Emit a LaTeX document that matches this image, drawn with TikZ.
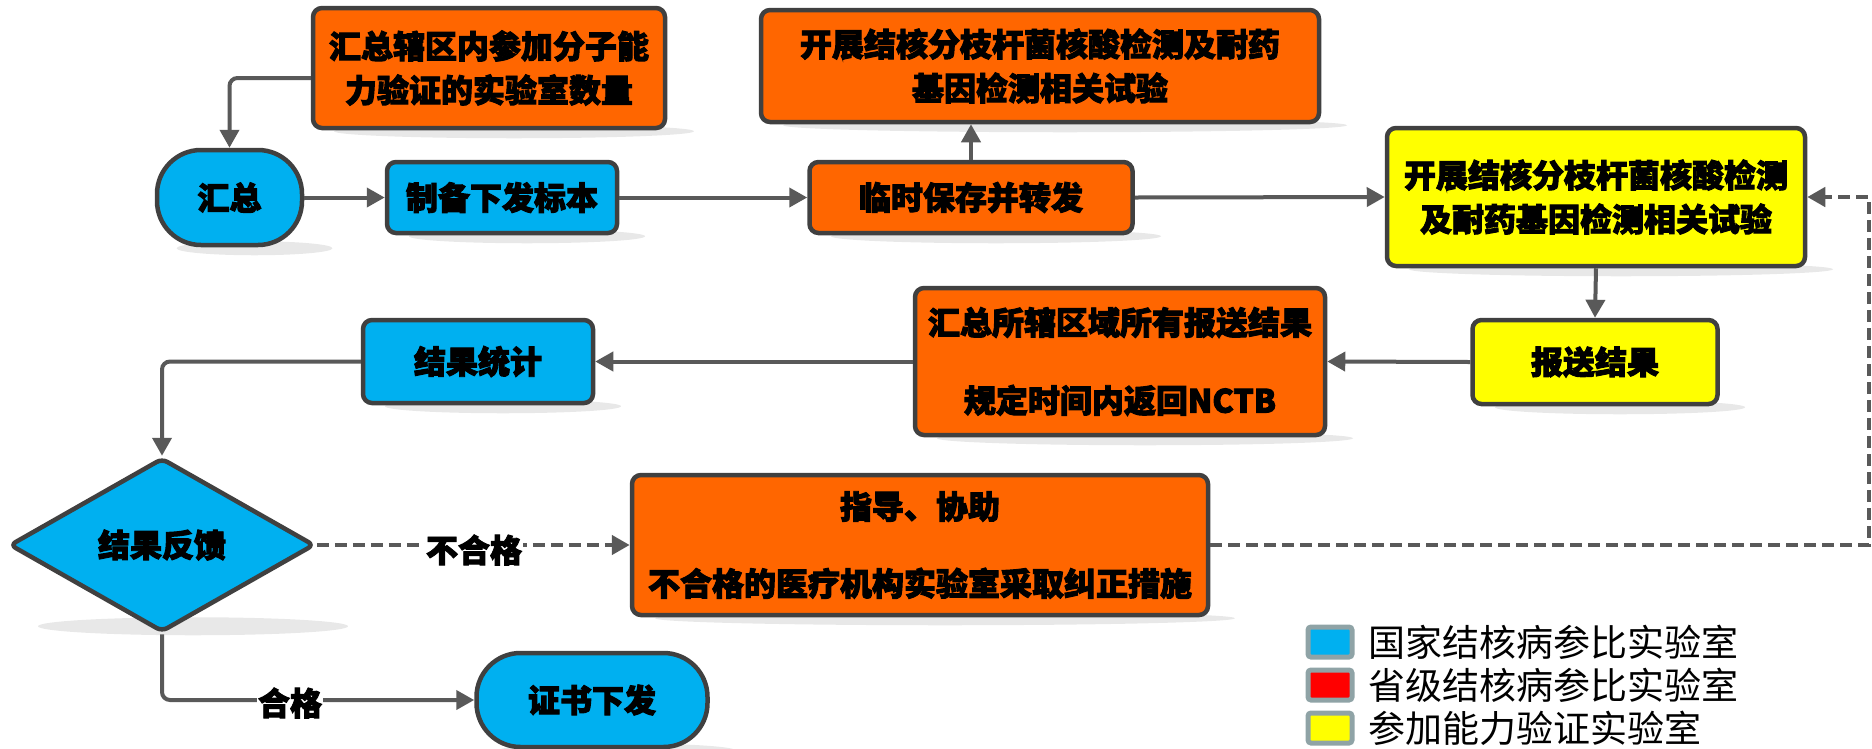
\documentclass[tikz,border=0pt]{standalone}
\usepackage{fontspec}
\newfontfamily\cjk{Noto Sans CJK SC}[BoldFeatures={FakeBold=3}]
\usetikzlibrary{arrows.meta,shapes.geometric,backgrounds,calc}
\definecolor{cblue}{HTML}{00B0F0}
\definecolor{corange}{HTML}{FF6600}
\definecolor{cyellow}{HTML}{FFFF00}
\definecolor{cred}{HTML}{FF0000}
\definecolor{bd}{HTML}{404040}
\definecolor{ln}{HTML}{595959}
\definecolor{shadowc}{HTML}{E8E8E8}
\definecolor{legbd}{HTML}{8FA3A6}
\tikzset{
  box/.style={draw=bd, line width=4.5pt, rounded corners=9pt, inner sep=0pt, align=center,
    font=\cjk\bfseries\fontsize{32}{44}\selectfont},
  bluebox/.style={box, fill=cblue},
  orangebox/.style={box, fill=corange},
  yellowbox/.style={box, fill=cyellow},
  pill/.style={box, fill=cblue, rounded corners=44pt},
  decision/.style={draw=bd, line width=4.5pt, fill=cblue, diamond, aspect=1.75, inner sep=0pt,
    rounded corners=6pt, font=\cjk\bfseries\fontsize{32}{44}\selectfont},
  arr/.style={draw=ln, line width=4pt, rounded corners=8pt, -{Triangle[length=18pt,width=19pt]}},
  darr/.style={arr, dash pattern=on 12pt off 6pt, rounded corners=0pt, line width=4.5pt},
  lbl/.style={fill=white, inner sep=1pt, font=\cjk\bfseries\fontsize{32}{40}\selectfont},
  legsq/.style={draw=legbd, line width=5pt, rounded corners=3pt, minimum width=44pt, minimum height=30pt, inner sep=0pt},
  legtx/.style={anchor=west, inner sep=0pt, font=\cjk\fontsize{37}{40}\selectfont},
}
\newcommand{\shd}[2]{\fill[shadowc] ([xshift=25pt,yshift=-1pt]#1.south) ellipse [x radius=#2, y radius=7pt];}
\begin{document}
\begin{tikzpicture}[x=1pt,y=-1pt]
\useasboundingbox (0,0) rectangle (1872,748);
% nodes
\node[orangebox, minimum width=352pt, minimum height=120pt] (A) at (489,68) {汇总辖区内参加分子能\\力验证的实验室数量};
\node[pill, minimum width=145pt, minimum height=95pt] (B) at (229.5,197.5) {汇总};
\node[bluebox, minimum width=230pt, minimum height=71pt] (C) at (502,197.5) {制备下发标本};
\node[orangebox, minimum width=323pt, minimum height=71pt] (D) at (971,197.5) {临时保存并转发};
\node[orangebox, minimum width=558pt, minimum height=112pt] (E) at (1040,66) {开展结核分枝杆菌核酸检测及耐药\\基因检测相关试验};
\node[yellowbox, minimum width=418pt, minimum height=138pt] (F) at (1596,197) {开展结核分枝杆菌核酸检测\\及耐药基因检测相关试验};
\node[yellowbox, minimum width=245pt, minimum height=84pt] (G) at (1595,362) {报送结果};
\node[orangebox, minimum width=410pt, minimum height=147pt] (H) at (1120,361.5) {汇总所辖区域所有报送结果\\[34pt]规定时间内返回NCTB};
\node[bluebox, minimum width=230pt, minimum height=83pt] (I) at (478,361.5) {结果统计};
\node[decision, minimum width=305pt, minimum height=174pt] (J) at (162,545) {结果反馈};
\node[orangebox, minimum width=576pt, minimum height=140pt] (K) at (920,545) {指导、协助\\[33pt]不合格的医疗机构实验室采取纠正措施};
\node[pill, minimum width=231pt, minimum height=94pt] (L) at (592,700) {证书下发};
\coordinate (R) at (1869,545);
% shadows
\begin{scope}[on background layer]
\shd{A}{180pt}
\shd{B}{78pt}
\shd{C}{118pt}
\shd{D}{165pt}
\shd{E}{282pt}
\shd{F}{212pt}
\shd{G}{125pt}
\shd{H}{208pt}
\shd{I}{118pt}
\fill[shadowc] ([xshift=31pt,yshift=8pt]J.south) ellipse [x radius=155pt, y radius=9pt];
\shd{K}{290pt}
\shd{L}{118pt}
\end{scope}
% connectors
\draw[arr] ([yshift=-10pt]A.west) -| (B.north);
\draw[arr] (B.east) -- (C.west);
\draw[arr] (C.east) -- (D.west);
\draw[arr] (D.north) -- (D.north |- E.south);
\draw[arr] (D.east) -- (F.west);
\draw[arr] (F.south) -- (G.north);
\draw[arr] (G.west) -- (H.east);
\draw[arr] (H.west) -- (I.east);
\draw[arr] (I.west) -| (J.north);
\draw[darr] (J.east) -- (K.west);
\node[lbl] (ng) at (474,550) {不合格};
\draw[darr] (K.east) -- (R) |- (F.east);
\draw[arr] (J.south) |- (L.west);
\node[lbl] (hg) at (290,703) {合格};
% legend
\node[legsq, fill=cblue] (s1) at (1330,642) {};
\node[legtx] (t1) at (1368,642) {国家结核病参比实验室};
\node[legsq, fill=cred] (s2) at (1330,685) {};
\node[legtx] (t2) at (1368,685) {省级结核病参比实验室};
\node[legsq, fill=cyellow] (s3) at (1330,728) {};
\node[legtx] (t3) at (1368,728) {参加能力验证实验室};
\end{tikzpicture}
\end{document}
